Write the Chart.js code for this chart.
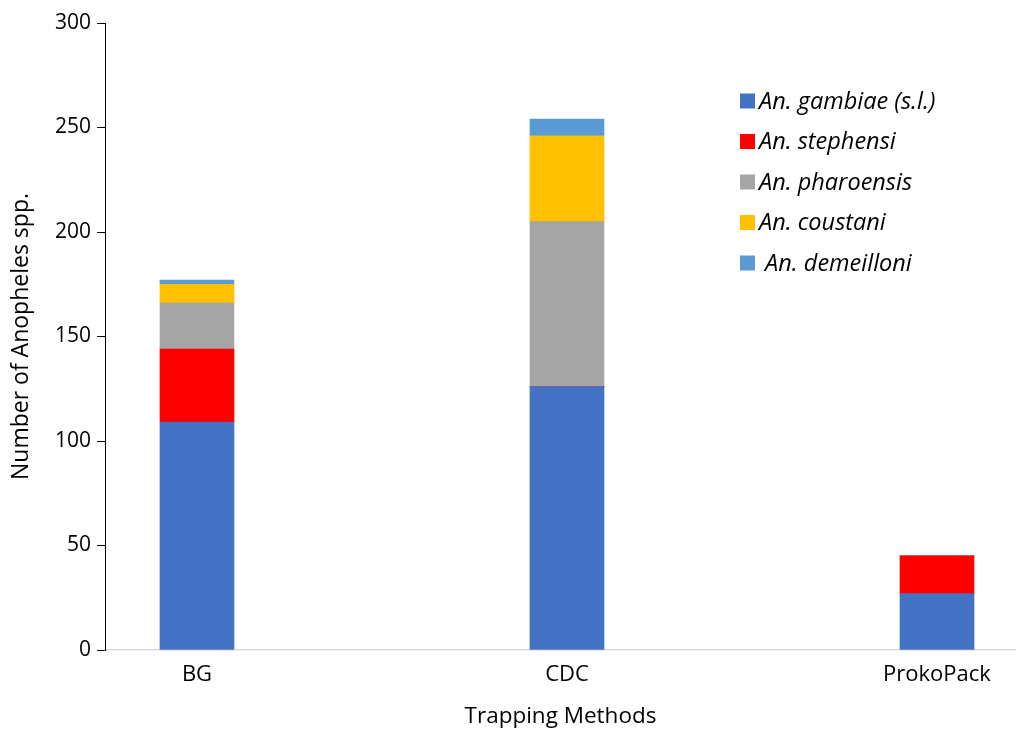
<!DOCTYPE html>
<html>
<head>
<meta charset="utf-8">
<script src="https://cdn.jsdelivr.net/npm/chart.js@4/dist/chart.umd.min.js"></script>
<style>
html,body{margin:0;padding:0;background:#fff;overflow:hidden;width:1016px;height:732px;}
canvas{display:block;}
</style>
</head>
<body>
<canvas id="c" width="1016" height="732" style="width:1016px;height:732px"></canvas>
<script>
const categories = ['BG', 'CDC', 'ProkoPack'];
const seriesNames = ['An. gambiae (s.l.)', 'An. stephensi', 'An. pharoensis', 'An. coustani', ' An. demeilloni'];
const gambiae = [109, 126, 27];
const stephensi = [35, 0, 18];
const pharoensis = [22, 79, 0];
const coustani = [9, 41, 0];
const demeilloni = [2, 8, 0];
const yTicks = [0, 50, 100, 150, 200, 250, 300];
const colors = ['#4472C4', '#FF0000', '#A5A5A5', '#FFC000', '#5B9BD5'];

const FONT = '"Open Sans", sans-serif';

const legendPlugin = {
  id: 'customLegend',
  afterDraw(chart) {
    const ctx = chart.ctx;
    ctx.save();
    const x0 = 740, y0 = 101, step = 40.5, box = 15;
    chart.data.datasets.forEach((ds, i) => {
      const yc = y0 + i * step;
      ctx.fillStyle = ds.backgroundColor;
      ctx.fillRect(x0, yc - box / 2, box, box);
      ctx.fillStyle = '#000';
      ctx.font = 'italic 23.5px ' + FONT;
      ctx.textBaseline = 'middle';
      ctx.textAlign = 'left';
      ctx.fillText(ds.label, x0 + 19, yc + 1);
    });
    ctx.restore();
  }
};

const datasets = [gambiae, stephensi, pharoensis, coustani, demeilloni].map((d, i) => ({
  label: seriesNames[i],
  data: d.map((v, j) => ({ x: j, y: v })),
  backgroundColor: colors[i],
  borderWidth: 0,
  barThickness: 74
}));

new Chart(document.getElementById('c'), {
  type: 'bar',
  data: { labels: categories, datasets },
  plugins: [legendPlugin],
  options: {
    responsive: false,
    animation: false,
    devicePixelRatio: 1,
    layout: { padding: { top: 23, right: 0, bottom: 2, left: 0 } },
    plugins: { legend: { display: false }, tooltip: { enabled: false } },
    scales: {
      x: {
        type: 'linear',
        stacked: true,
        offset: false,
        min: -0.2486,
        max: 2.2135,
        afterBuildTicks(s) { s.ticks = categories.map((c, i) => ({ value: i })); },
        grid: { display: false, offset: false },
        border: { display: true, color: '#d9d9d9', width: 1.5 },
        ticks: {
          color: '#000', font: { family: FONT, size: 22 }, padding: 4, maxRotation: 0, autoSkip: false,
          callback: (v) => categories[v]
        },
        title: { display: true, text: 'Trapping Methods', color: '#000', font: { family: FONT, size: 22.5 }, padding: { top: 10, bottom: 0 } },
        afterFit(s) { s.height = 80; }
      },
      y: {
        stacked: true,
        min: 0, max: 300,
        afterBuildTicks(s) { s.ticks = yTicks.map(v => ({ value: v })); },
        grid: { drawOnChartArea: false, drawTicks: true, tickLength: 8, color: '#000' },
        border: { display: true, color: '#000', width: 1 },
        ticks: { color: '#000', font: { family: FONT, size: 21 }, padding: 6 },
        title: { display: true, text: 'Number of Anopheles spp.', color: '#000', font: { family: FONT, size: 23 }, padding: { top: 8, bottom: 0 } },
        afterFit(s) { s.width = 105; }
      }
    }
  }
});
</script>
</body>
</html>
